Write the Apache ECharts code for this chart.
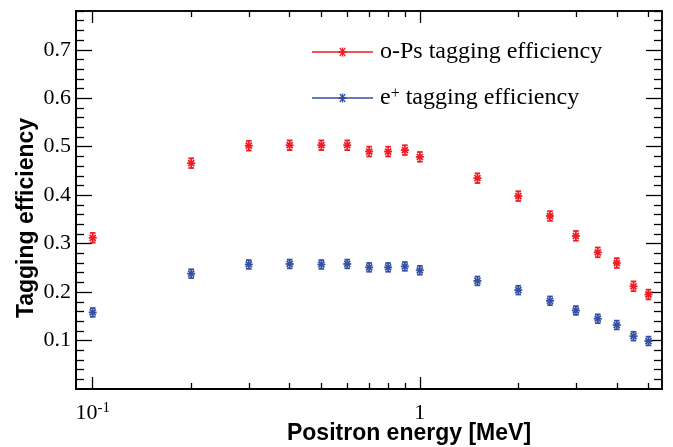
<!DOCTYPE html>
<html>
<head>
<meta charset="utf-8">
<script src="https://cdn.jsdelivr.net/npm/echarts@6/dist/echarts.min.js"></script>
<style>
  html, body { margin: 0; padding: 0; background: #fff; }
  #chart { width: 673px; height: 447px; }
</style>
</head>
<body>
<div id="chart"></div>
<script>
  // positron energy [MeV]
  var energies = [0.1, 0.2, 0.3, 0.4, 0.5, 0.6, 0.7, 0.8, 0.9, 1.0, 1.5, 2, 2.5, 3, 3.5, 4, 4.5, 5];
  // o-Ps tagging efficiency
  var opsEff = [0.312, 0.466, 0.502, 0.503, 0.503, 0.503, 0.490, 0.490, 0.493, 0.479, 0.435, 0.398, 0.357, 0.316, 0.282, 0.260, 0.212, 0.195];
  var opsErr = [0.010, 0.010, 0.010, 0.010, 0.010, 0.010, 0.010, 0.010, 0.010, 0.010, 0.010, 0.010, 0.010, 0.010, 0.010, 0.010, 0.010, 0.010];
  // e+ tagging efficiency
  var ePlusEff = [0.158, 0.238, 0.257, 0.258, 0.257, 0.258, 0.251, 0.251, 0.253, 0.245, 0.223, 0.204, 0.182, 0.162, 0.145, 0.132, 0.109, 0.099];
  var ePlusErr = [0.009, 0.009, 0.009, 0.009, 0.009, 0.009, 0.009, 0.009, 0.009, 0.009, 0.009, 0.009, 0.009, 0.009, 0.009, 0.009, 0.009, 0.009];

  // tick labels
  var xLabelValues = [0.1, 1];
  var xMinorTicks = [0.2, 0.3, 0.4, 0.5, 0.6, 0.7, 0.8, 0.9, 2, 3, 4, 5];
  var yLabelValues = [0.1, 0.2, 0.3, 0.4, 0.5, 0.6, 0.7];
  var yMinorTicks = [];
  for (var k = 1; k <= 39; k++) {
    if (k % 5 !== 0) yMinorTicks.push(+(k * 0.02).toFixed(2));
  }

  var RED = '#ef1c24';
  var BLUE = '#3550a2';
  var X_MIN = 0.0889, X_MAX = 5.5;
  var Y_MIN = 0, Y_MAX = 0.78;

  var chart = echarts.init(document.getElementById('chart'));

  function renderPoint(params, api) {
    var x = api.value(0), y = api.value(1), err = api.value(2);
    var c = api.coord([x, y]);
    var top = api.coord([x, y + err]);
    var bot = api.coord([x, y - err]);
    var r = 4, d = 3, cap = 2.8;
    var style = { stroke: api.visual('color'), lineWidth: 1.8 };
    function seg(x1, y1, x2, y2) {
      return { type: 'line', shape: { x1: x1, y1: y1, x2: x2, y2: y2 }, style: style };
    }
    return {
      type: 'group',
      children: [
        seg(c[0], top[1], c[0], bot[1]),
        seg(c[0] - cap, top[1], c[0] + cap, top[1]),
        seg(c[0] - cap, bot[1], c[0] + cap, bot[1]),
        seg(c[0] - r, c[1], c[0] + r, c[1]),
        seg(c[0] - d, c[1] - d, c[0] + d, c[1] + d),
        seg(c[0] - d, c[1] + d, c[0] + d, c[1] - d)
      ]
    };
  }

  function pts(vals, errs) {
    return energies.map(function (e, i) { return [e, vals[i], errs[i]]; });
  }

  var legendIcon = 'path://M0,3.7L61,3.7L61,5.3L0,5.3Z' +
    'M29.8,0L31.2,0L31.2,9L29.8,9Z' +
    'M26.5,3.5L34.5,3.5L34.5,5.5L26.5,5.5Z' +
    'M27.3,0.7L28.3,0L33.7,8.3L32.7,9Z' +
    'M32.7,0L33.7,0.7L28.3,9L27.3,8.3Z';

  function xAxisDef(pos, ticks, len, labels) {
    return {
      type: 'log',
      position: pos,
      min: X_MIN,
      max: X_MAX,
      logBase: 10,
      axisLine: { show: true, onZero: false, lineStyle: { color: '#000', width: pos === 'bottom' ? 2 : 1.5 } },
      axisTick: { show: true, inside: true, length: len, customValues: ticks, lineStyle: { color: '#000', width: 1.3 } },
      axisLabel: labels ? {
        show: true,
        customValues: xLabelValues,
        margin: 12,
        formatter: function (v) {
          return v < 0.5 ? '{b|10}{s|-1}' : '{b|1}';
        },
        rich: {
          b: { fontFamily: 'Liberation Serif', fontSize: 22, color: '#000', lineHeight: 24 },
          s: { fontFamily: 'Liberation Serif', fontSize: 15, color: '#000', verticalAlign: 'top', lineHeight: 24, padding: [0, 0, 8, 0] }
        }
      } : { show: false },
      splitLine: { show: false }
    };
  }

  function yAxisDef(pos, ticks, len, labels) {
    return {
      type: 'value',
      position: pos,
      min: Y_MIN,
      max: Y_MAX,
      axisLine: { show: true, onZero: false, lineStyle: { color: '#000', width: pos === 'left' ? 2 : 1.5 } },
      axisTick: { show: true, inside: true, length: len, customValues: ticks, lineStyle: { color: '#000', width: 1.3 } },
      axisLabel: labels ? {
        show: true,
        customValues: yLabelValues,
        margin: 5,
        fontFamily: 'Liberation Serif',
        fontSize: 22,
        color: '#000',
        formatter: function (v) { return v.toFixed(1); }
      } : { show: false },
      splitLine: { show: false }
    };
  }

  var option = {
    backgroundColor: '#fff',
    animation: false,
    grid: { left: 76, right: 11, top: 11, bottom: 58 },
    xAxis: [
      xAxisDef('bottom', xLabelValues, 12, true),
      xAxisDef('top', xLabelValues, 12, false),
      xAxisDef('bottom', xMinorTicks, 6, false),
      xAxisDef('top', xMinorTicks, 6, false)
    ],
    yAxis: [
      yAxisDef('left', yLabelValues, 16, true),
      yAxisDef('right', yLabelValues, 16, false),
      yAxisDef('left', yMinorTicks, 8, false),
      yAxisDef('right', yMinorTicks, 8, false)
    ],
    legend: {
      orient: 'vertical',
      left: 307,
      top: 35,
      itemWidth: 61,
      itemHeight: 9,
      itemGap: 22,
      data: [
        { name: 'o-Ps tagging efficiency', icon: legendIcon },
        { name: 'e+ tagging efficiency', icon: legendIcon }
      ],
      formatter: function (name) {
        return name === 'e+ tagging efficiency'
          ? '{t|e}{s|+}{t| tagging efficiency}'
          : '{t|o-Ps tagging efficiency}';
      },
      textStyle: {
        padding: [0, 0, 0, 2],
        rich: {
          t: { fontFamily: 'Liberation Serif', fontSize: 24, color: '#000', lineHeight: 24 },
          s: { fontFamily: 'Liberation Serif', fontSize: 16, color: '#000', verticalAlign: 'top', lineHeight: 24, padding: [0, 0, 8, 0] }
        }
      }
    },
    graphic: [
      {
        type: 'text',
        x: 27,
        y: 218,
        rotation: Math.PI / 2,
        style: {
          text: 'Tagging efficiency',
          font: 'bold 23px "Liberation Sans"',
          fill: '#000',
          textAlign: 'center',
          textVerticalAlign: 'middle'
        }
      },
      {
        type: 'text',
        x: 409,
        y: 434,
        style: {
          text: 'Positron energy [MeV]',
          font: 'bold 23px "Liberation Sans"',
          fill: '#000',
          textAlign: 'center',
          textVerticalAlign: 'middle'
        }
      }
    ],
    series: [
      {
        name: 'o-Ps tagging efficiency',
        type: 'custom',
        xAxisIndex: 0,
        yAxisIndex: 0,
        itemStyle: { color: RED },
        encode: { x: 0, y: 1 },
        renderItem: renderPoint,
        data: pts(opsEff, opsErr)
      },
      {
        name: 'e+ tagging efficiency',
        type: 'custom',
        xAxisIndex: 0,
        yAxisIndex: 0,
        itemStyle: { color: BLUE },
        encode: { x: 0, y: 1 },
        renderItem: renderPoint,
        data: pts(ePlusEff, ePlusErr)
      }
    ]
  };

  chart.setOption(option);
  window.addEventListener('resize', function () {
    chart.resize();
  });
</script>
</body>
</html>
